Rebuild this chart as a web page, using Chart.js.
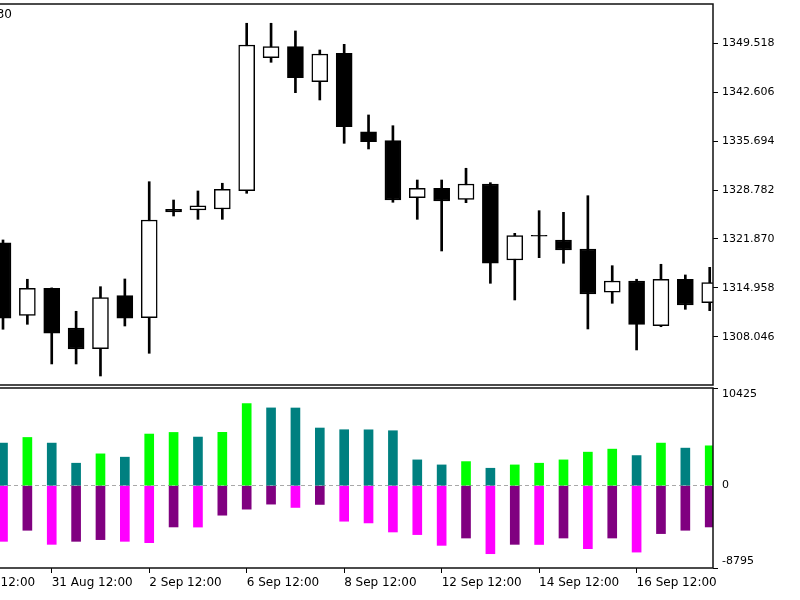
<!DOCTYPE html>
<html>
<head>
<meta charset="utf-8">
<script src="https://cdn.jsdelivr.net/npm/chart.js@4.4.1/dist/chart.umd.min.js"></script>
<style>
  html, body { margin: 0; padding: 0; background: #fff; }
  #wrap { position: relative; width: 800px; height: 600px; overflow: hidden; }
  canvas { position: absolute; left: 0; }
</style>
</head>
<body>
<div id="wrap">
  <canvas id="price" width="800" height="386" style="top:0"></canvas>
  <canvas id="power" width="800" height="216" style="top:384px"></canvas>
</div>
<script>
(() => {

    // candles, one per bar (bar index 0..29)
    const opens  = [1321.34, 1311.07, 1314.89, 1309.28, 1306.35, 1313.85, 1310.74, 1326.05, 1325.97, 1326.11,
                    1328.70, 1347.51, 1349.07, 1344.12, 1348.13, 1337.04, 1335.77, 1327.71, 1329.04, 1327.48,
                    1329.65, 1318.90, 1322.40, 1321.73, 1320.45, 1314.33, 1315.93, 1309.60, 1316.17, 1312.86];
    const highs  = [1321.73, 1316.17, 1314.95, 1311.64, 1315.12, 1316.21, 1329.97, 1327.38, 1328.66, 1329.75,
                    1352.38, 1352.38, 1351.29, 1348.60, 1349.40, 1339.41, 1337.89, 1330.21, 1330.21, 1331.87,
                    1329.83, 1322.67, 1325.87, 1325.64, 1327.99, 1318.09, 1316.17, 1318.29, 1316.78, 1317.86];
    const lows   = [1309.10, 1309.80, 1304.19, 1304.19, 1302.49, 1309.56, 1305.70, 1325.12, 1324.65, 1324.65,
                    1328.33, 1346.86, 1342.56, 1341.53, 1335.40, 1334.60, 1327.06, 1324.65, 1320.17, 1327.00,
                    1315.60, 1313.24, 1319.22, 1318.43, 1309.14, 1312.77, 1306.17, 1309.46, 1311.92, 1311.73];
    const closes = [1310.65, 1314.89, 1308.53, 1306.31, 1313.57, 1310.65, 1324.55, 1325.70, 1326.54, 1328.90,
                    1349.30, 1349.07, 1344.68, 1348.03, 1337.75, 1335.63, 1327.38, 1329.04, 1327.24, 1329.65,
                    1318.43, 1322.34, 1322.28, 1320.31, 1314.09, 1315.93, 1309.80, 1316.17, 1312.53, 1315.69];

    // lower window histogram
    const bullVals = [4542, 5143, 4542, 2394, 3393, 3039, 5508, 5680, 5186, 5690,
                      8761, 8300, 8290, 6152, 5970, 5960, 5862, 2749, 2212, 2566,
                      1857, 2212, 2394, 2749, 3575, 3898, 3210, 4542, 4005, 4252];
    const bearVals = [-5948, -4767, -6270, -5948, -5766, -5948, -6088, -4413, -4425, -3157,
                      -2512, -1976, -2330, -2008, -3801, -3983, -4950, -5229, -6378, -5594,
                      -7269, -6270, -6285, -5594, -6732, -5594, -7097, -5122, -4767, -4413];

    const priceTicks = [1308.046, 1314.958, 1321.870, 1328.782, 1335.694, 1342.606, 1349.518];
    const priceMin = 1301.214, priceMax = 1355.105;
    const powerTicks = [10425, 0, -8795];
    const dateTickBars = [-2, 2, 6, 10, 14, 18, 22, 26];
    const dateTickLabels = ['29 Aug 12:00', '31 Aug 12:00', '2 Sep 12:00', '6 Sep 12:00',
                            '8 Sep 12:00', '12 Sep 12:00', '14 Sep 12:00', '16 Sep 12:00'];
    const barMin = -0.123, barMax = 29.135;

    Chart.defaults.font.family = "'DejaVu Sans', sans-serif";
    Chart.defaults.color = '#000';

    const bullColors = bullVals.map((v, i) => i > 0 && v > bullVals[i - 1] ? '#00ff00' : '#008080');
    const bearColors = bearVals.map((v, i) => i > 0 && v > bearVals[i - 1] ? '#800080' : '#ff00ff');

    // frame round the chart area (top, right, bottom)
    const frame = {
        id: 'frame',
        afterDraw(chart, args, opts) {
            const {ctx, chartArea: a} = chart;
            ctx.save();
            ctx.strokeStyle = '#111';
            ctx.lineWidth = 1.5;
            ctx.beginPath();
            ctx.moveTo(0, a.top);
            ctx.lineTo(a.right, a.top);
            ctx.lineTo(a.right, a.bottom);
            ctx.lineTo(0, a.bottom);
            ctx.stroke();
            if (opts.text) {
                ctx.fillStyle = '#000';
                ctx.font = "12px 'DejaVu Sans', sans-serif";
                ctx.textAlign = 'right';
                ctx.textBaseline = 'middle';
                ctx.fillText(opts.text, 12, 15);
            }
            ctx.restore();
        }
    };

    const sideAxisFit = s => { s.width = 87; s.paddingTop = 0; s.paddingBottom = 0; };

    new Chart(document.getElementById('price'), {
        type: 'bar',
        data: {
            datasets: [
                {
                    label: 'body',
                    data: opens.map((o, i) => ({x: i, y: [o, closes[i]]})),
                    barThickness: 16,
                    grouped: false,
                    borderWidth: 1.5,
                    borderColor: '#000',
                    borderSkipped: false,
                    backgroundColor: c => closes[c.dataIndex] < opens[c.dataIndex] ? '#000' : '#fff',
                    order: 0,
                    clip: 0
                },
                {
                    label: 'wick',
                    data: lows.map((l, i) => ({x: i, y: [l, highs[i]]})),
                    barThickness: 2,
                    grouped: false,
                    borderWidth: 0,
                    backgroundColor: '#000',
                    order: 1,
                    clip: 0
                }
            ]
        },
        options: {
            responsive: false,
            animation: false,
            layout: {padding: {top: 4, bottom: 1, left: 0, right: 0}},
            plugins: {legend: {display: false}, tooltip: {enabled: false}, frame: {text: '30'}},
            scales: {
                x: {type: 'linear', display: false, min: barMin, max: barMax, offset: false},
                y: {
                    type: 'linear',
                    position: 'right',
                    min: priceMin,
                    max: priceMax,
                    afterBuildTicks: s => { s.ticks = priceTicks.map(v => ({value: v})); },
                    afterFit: sideAxisFit,
                    grid: {drawOnChartArea: false, tickLength: 5, tickColor: '#000', tickWidth: 1},
                    border: {display: false},
                    ticks: {padding: 4, font: {size: 11}, color: '#000', callback: v => v.toFixed(3)}
                }
            }
        },
        plugins: [frame]
    });

    new Chart(document.getElementById('power'), {
        type: 'bar',
        data: {
            datasets: [
                {
                    label: 'bulls',
                    data: bullVals.map((v, i) => ({x: i, y: v})),
                    backgroundColor: bullColors,
                    barThickness: 9,
                    grouped: false,
                    borderWidth: 0,
                    clip: 0
                },
                {
                    label: 'bears',
                    data: bearVals.map((v, i) => ({x: i, y: v})),
                    backgroundColor: bearColors,
                    barThickness: 9,
                    grouped: false,
                    borderWidth: 0,
                    clip: 0
                }
            ]
        },
        options: {
            responsive: false,
            animation: false,
            layout: {padding: {top: 4, bottom: 0, left: 0, right: 0}},
            plugins: {legend: {display: false}, tooltip: {enabled: false}},
            scales: {
                x: {
                    type: 'linear',
                    min: barMin,
                    max: barMax,
                    offset: false,
                    afterBuildTicks: s => { s.ticks = dateTickBars.map(v => ({value: v})); },
                    afterFit: s => { s.height = 32; s.paddingLeft = 0; s.paddingRight = 0; },
                    grid: {drawOnChartArea: false, offset: false, tickLength: 5, tickColor: '#000'},
                    border: {display: false},
                    ticks: {
                        autoSkip: false, maxRotation: 0, minRotation: 0, align: 'start', padding: 3,
                        font: {size: 12}, color: '#000',
                        callback: v => dateTickLabels[dateTickBars.indexOf(v)]
                    }
                },
                y: {
                    type: 'linear',
                    position: 'right',
                    min: powerTicks[2],
                    max: powerTicks[0],
                    afterBuildTicks: s => { s.ticks = powerTicks.map(v => ({value: v})); },
                    afterFit: sideAxisFit,
                    grid: {
                        lineWidth: 1,
                        tickLength: 5,
                        color: c => c.tick && c.tick.value === 0 ? '#a8a8a8' : 'rgba(0,0,0,0)',
                        tickColor: c => c.tick && c.tick.value === 0 ? 'rgba(0,0,0,0)' : '#000'
                    },
                    border: {display: false, dash: [4, 3]},
                    ticks: {
                        padding: 4, font: {size: 11}, color: '#000',
                        callback: v => v === powerTicks[0] ? ['', String(v)] : v === powerTicks[2] ? [String(v), ''] : String(v)
                    }
                }
            }
        },
        plugins: [frame]
    });

})()
</script>
</body>
</html>
